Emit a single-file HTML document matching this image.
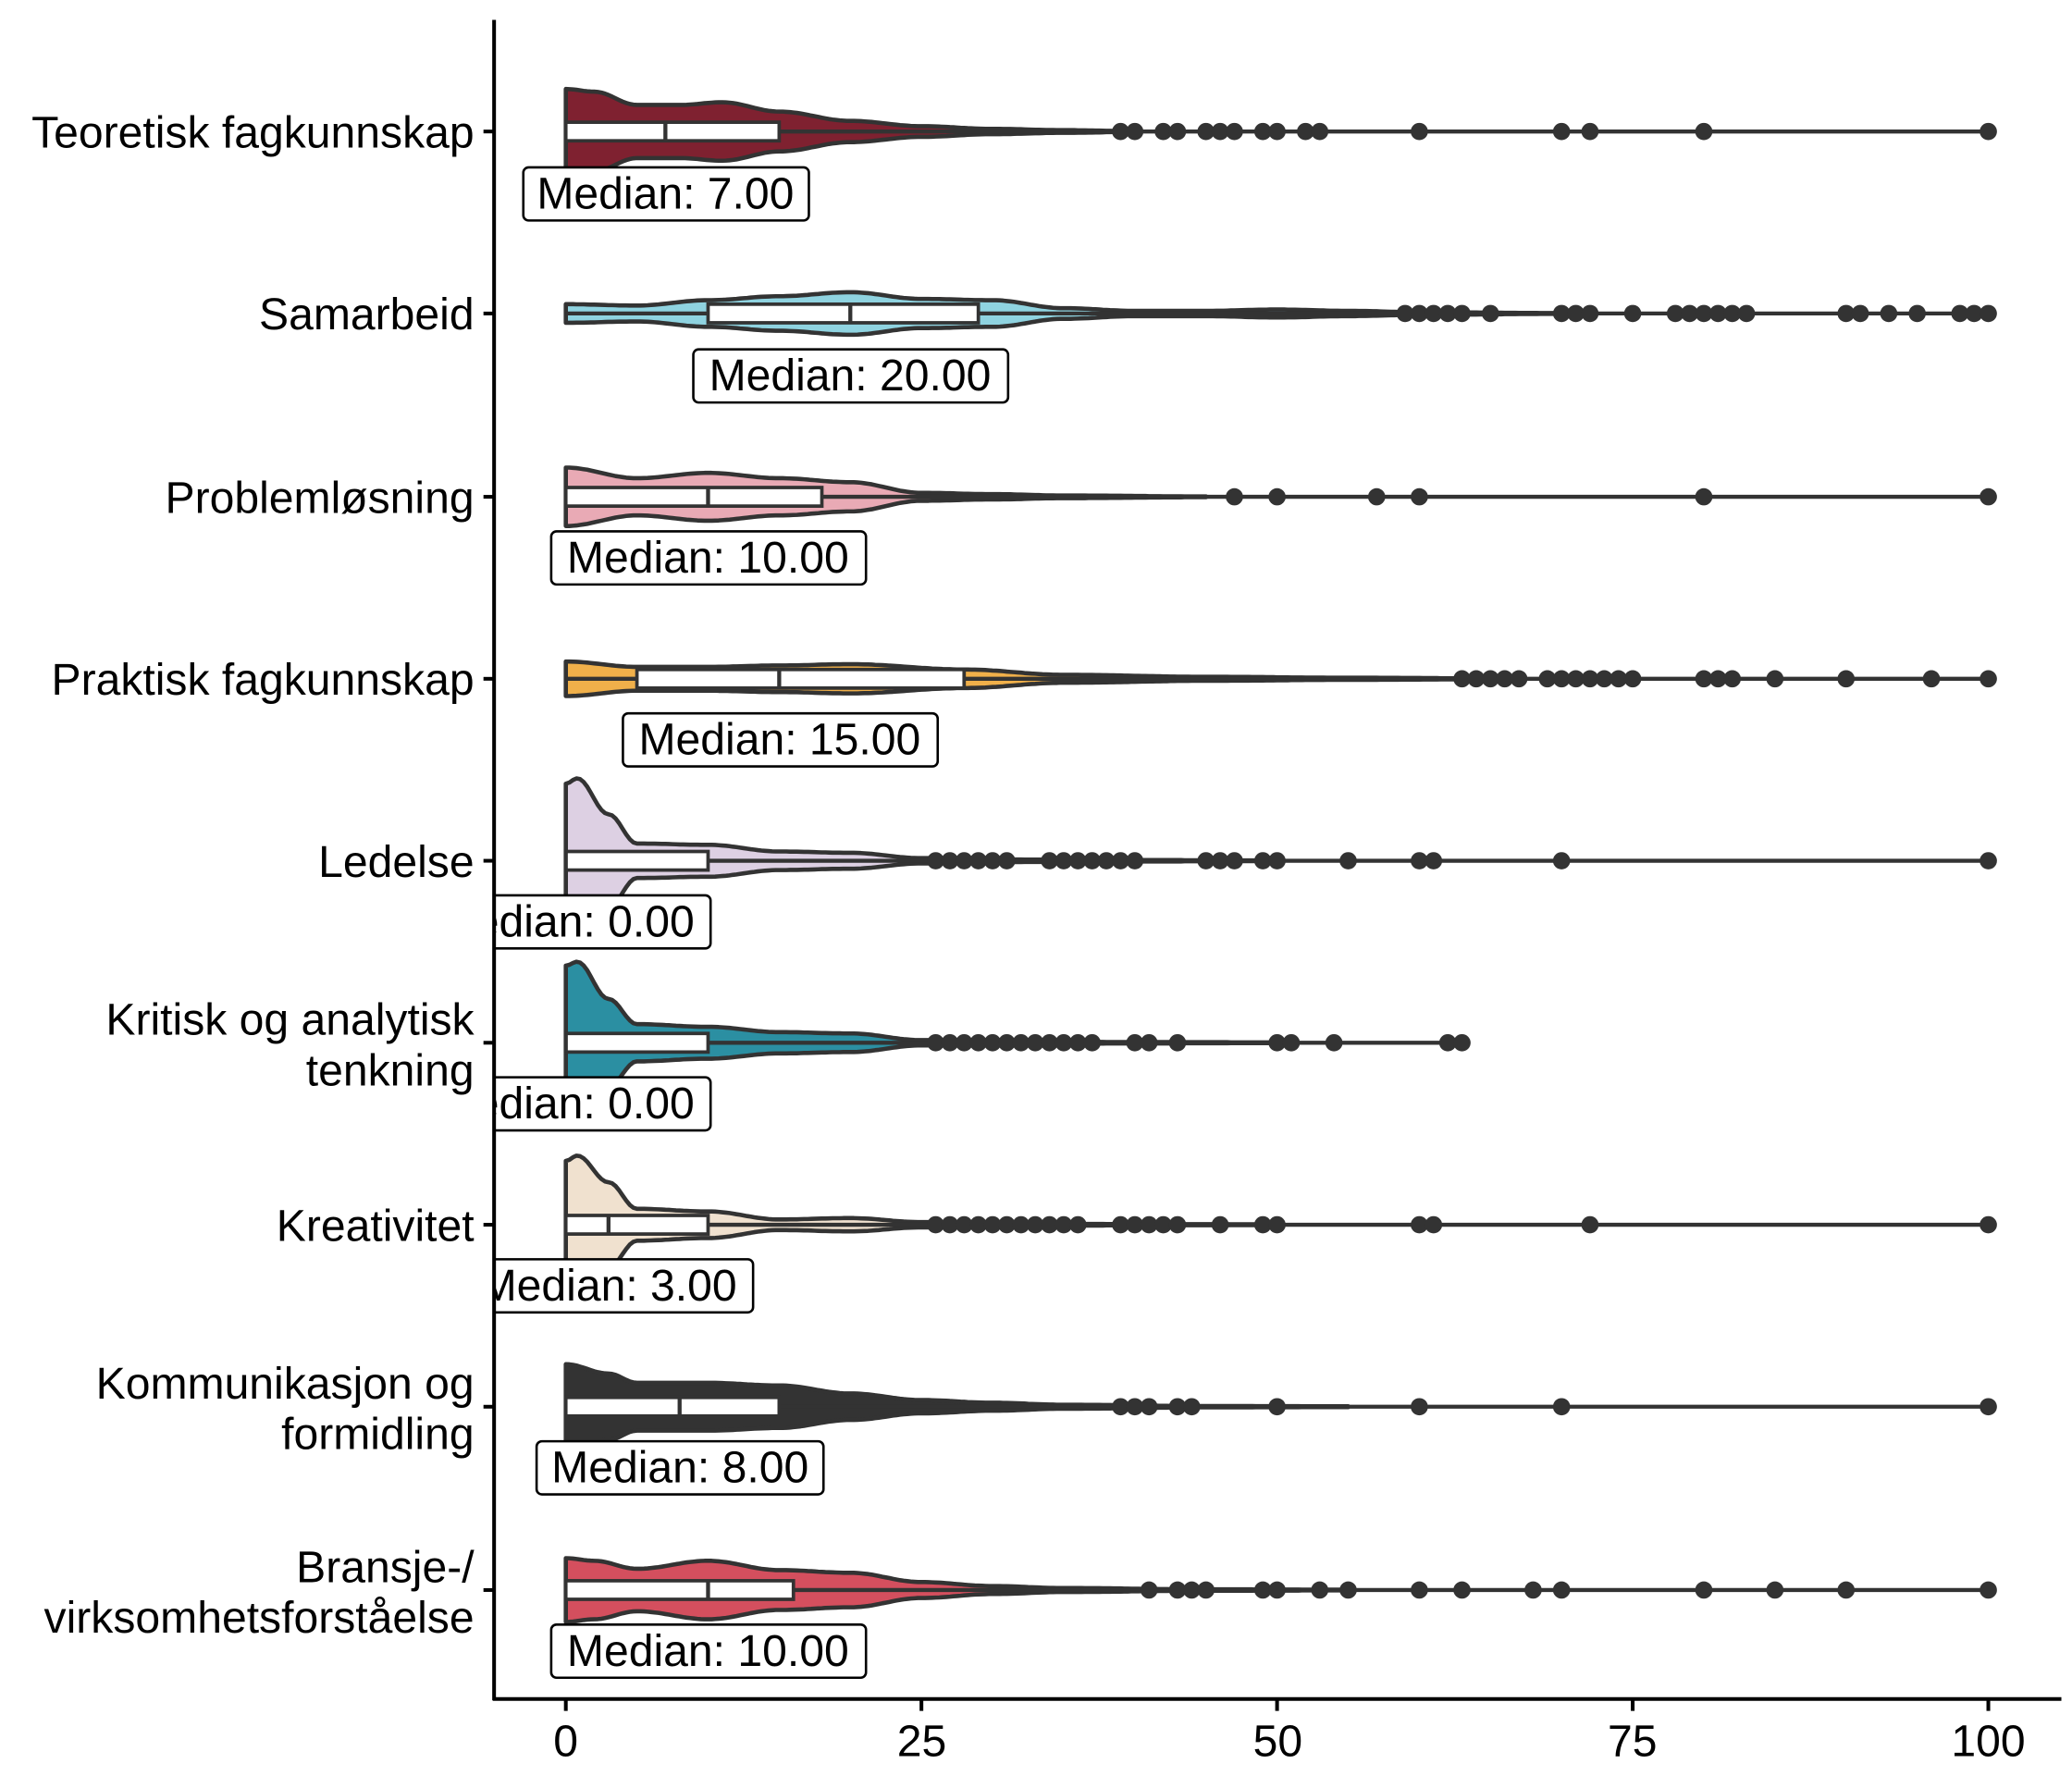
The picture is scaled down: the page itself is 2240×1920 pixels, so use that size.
<!DOCTYPE html>
<html><head><meta charset="utf-8"><style>
html,body{margin:0;padding:0;background:#fff}
svg{display:block}
text{font-family:"Liberation Sans",Arial,sans-serif;fill:#000}
</style></head><body>
<svg id="s" width="2240" height="1920" viewBox="0 0 1560 1337" preserveAspectRatio="none" xmlns="http://www.w3.org/2000/svg">
<defs><clipPath id="cp"><rect x="373" y="0" width="1200" height="1278"/></clipPath></defs>
<g id="plot" clip-path="url(#cp)"></g>
<g id="labels" clip-path="url(#cp)" font-size="33.5">
<g><rect x="394" y="126" width="215" height="40" rx="4" fill="#fff" stroke="#000" stroke-width="1.8"/><text x="501" y="157" text-anchor="middle">Median: 7.00</text></g>
<g><rect x="522" y="263" width="237" height="40" rx="4" fill="#fff" stroke="#000" stroke-width="1.8"/><text x="640" y="294" text-anchor="middle">Median: 20.00</text></g>
<g><rect x="415" y="400" width="237" height="40" rx="4" fill="#fff" stroke="#000" stroke-width="1.8"/><text x="533" y="431" text-anchor="middle">Median: 10.00</text></g>
<g><rect x="469" y="537" width="237" height="40" rx="4" fill="#fff" stroke="#000" stroke-width="1.8"/><text x="587" y="568" text-anchor="middle">Median: 15.00</text></g>
<g><rect x="319" y="674" width="216" height="40" rx="4" fill="#fff" stroke="#000" stroke-width="1.8"/><text x="426" y="705" text-anchor="middle">Median: 0.00</text></g>
<g><rect x="319" y="811" width="216" height="40" rx="4" fill="#fff" stroke="#000" stroke-width="1.8"/><text x="426" y="842" text-anchor="middle">Median: 0.00</text></g>
<g><rect x="351" y="948" width="216" height="40" rx="4" fill="#fff" stroke="#000" stroke-width="1.8"/><text x="458" y="979" text-anchor="middle">Median: 3.00</text></g>
<g><rect x="404" y="1085" width="216" height="40" rx="4" fill="#fff" stroke="#000" stroke-width="1.8"/><text x="512" y="1116" text-anchor="middle">Median: 8.00</text></g>
<g><rect x="415" y="1223" width="237" height="40" rx="4" fill="#fff" stroke="#000" stroke-width="1.8"/><text x="533" y="1254" text-anchor="middle">Median: 10.00</text></g>
</g>
<g stroke="#000" stroke-width="2.8">
<line x1="372" y1="15" x2="372" y2="1280"/>
<line x1="371" y1="1279" x2="1552" y2="1279"/>
</g>
<g id="ticks" stroke="#000" stroke-width="2.8"></g>
<g font-size="33.5" text-anchor="end">
<text x="357" y="111">Teoretisk fagkunnskap</text>
<text x="357" y="248">Samarbeid</text>
<text x="357" y="386">Problemløsning</text>
<text x="357" y="523">Praktisk fagkunnskap</text>
<text x="357" y="660">Ledelse</text>
<text x="357" y="779">Kritisk og analytisk</text>
<text x="357" y="817">tenkning</text>
<text x="357" y="934">Kreativitet</text>
<text x="357" y="1053">Kommunikasjon og</text>
<text x="357" y="1091">formidling</text>
<text x="357" y="1191">Bransje-/</text>
<text x="357" y="1229">virksomhetsforståelse</text>
</g>
<g font-size="33.5" text-anchor="middle">
<text x="426" y="1322">0</text>
<text x="694" y="1322">25</text>
<text x="962" y="1322">50</text>
<text x="1229" y="1322">75</text>
<text x="1497" y="1322">100</text>
</g>
</svg>
<script>
(function(){
var NS="http://www.w3.org/2000/svg";
function X(v){return 426+10.71*v;}
var rows=[
{y:99,c:"#7f2130",p:[[0,32],[2,30],[5,20],[8,20],[11,22],[15,15],[20,8],[25,4],[30,2],[35,1],[40,0.3]],b:[0,7,15],mx:100,
 d:[39,40,42,43,45,46,47,49,50,52,53,60,70,72,80,100]},
{y:236,c:"#8fd3e0",p:[[0,7],[5,6],[10,10],[15,13],[20,16],[25,11],[30,10],[35,4],[40,2],[45,2],[50,3],[55,2],[60,1],[70,0.3]],b:[10,20,29],mx:100,
 d:[59,60,61,62,63,65,70,71,72,75,78,79,80,81,82,83,90,91,93,95,98,99,100]},
{y:374,c:"#e9aab5",p:[[0,22],[5,14],[10,18],[15,14],[20,11],[25,3],[30,2],[35,1],[45,0.3]],b:[0,10,18],mx:100,
 d:[47,50,57,60,80,100]},
{y:511,c:"#f0b04a",p:[[0,13],[5,9],[10,9],[15,10],[20,11],[28,7],[35,3],[45,1.5],[55,0.8],[65,0.3]],b:[5,15,28],mx:100,
 d:[63,64,65,66,67,69,70,71,72,73,74,75,80,81,82,85,90,96,100]},
{y:648,c:"#ddd0e3",p:[[0,58],[0.8,62],[3,35],[5,13],[10,12],[15,7],[20,6],[25,2],[30,1],[40,0.5],[50,0.3]],b:[0,0,10],mx:100,
 d:[26,27,28,29,30,31,34,35,36,37,38,39,40,45,46,47,49,50,55,60,61,70,100]},
{y:785,c:"#2b8fa2",p:[[0,58],[0.8,61],[3,33],[5,14],[10,12],[15,8],[20,7],[25,2],[30,1],[40,0.5],[50,0.3]],b:[0,0,10],mx:63,
 d:[26,27,28,29,30,31,32,33,34,35,36,37,40,41,43,50,51,54,62,63]},
{y:922,c:"#f0e1cf",p:[[0,48],[0.8,52],[3,32],[5,12],[10,10],[15,4],[20,5],[25,2],[30,1],[40,0.5],[50,0.3]],b:[0,3,10],mx:100,
 d:[26,27,28,29,30,31,32,33,34,35,36,39,40,41,42,43,46,49,50,60,61,72,100]},
{y:1059,c:"#333333",p:[[0,32],[3,25],[5,18],[10,18],[15,16],[20,10],[25,5],[30,3],[35,1.5],[45,0.5],[55,0.3]],b:[0,8,15],mx:100,
 d:[39,40,41,43,44,50,60,70,100]},
{y:1197,c:"#d44f5e",p:[[0,24],[2,22],[5,16],[10,22],[15,15],[20,13],[25,6],[30,3],[35,1.5],[45,0.5],[55,0.3]],b:[0,10,16],mx:100,
 d:[41,43,44,45,49,50,53,55,60,63,68,70,80,85,90,100]}
];
var g=document.getElementById("plot");
function el(n,a){var e=document.createElementNS(NS,n);for(var k in a)e.setAttribute(k,a[k]);g.appendChild(e);return e;}
function interp(p,v){for(var i=0;i<p.length-1;i++){if(v>=p[i][0]&&v<=p[i+1][0]){var t=(v-p[i][0])/(p[i+1][0]-p[i][0]);t=(1-Math.cos(Math.PI*t))/2;return p[i][1]+(p[i+1][1]-p[i][1])*t;}}return 0;}
rows.forEach(function(r){
 var end=r.p[r.p.length-1][0],top=[],bot=[];
 for(var v=0;v<=end;v+=0.25){var h=interp(r.p,v);top.push(X(v).toFixed(1)+","+(r.y-h).toFixed(1));bot.unshift(X(v).toFixed(1)+","+(r.y+h).toFixed(1));}
 el("polygon",{points:top.concat(bot).join(" "),fill:r.c,stroke:"#333",'stroke-width':3.2,'stroke-linejoin':"round"});
 el("line",{x1:X(0),y1:r.y,x2:X(r.mx),y2:r.y,stroke:"#333",'stroke-width':3});
 el("rect",{x:X(r.b[0]),y:r.y-7,width:Math.max(X(r.b[2])-X(r.b[0]),0.1),height:14,fill:"#fff",stroke:"#333",'stroke-width':2.6});
 el("line",{x1:X(r.b[1]),y1:r.y-7,x2:X(r.b[1]),y2:r.y+7,stroke:"#333",'stroke-width':3});
 r.d.forEach(function(v){el("circle",{cx:X(v),cy:r.y,r:6.5,fill:"#333"});});
});
var t=document.getElementById("ticks");
rows.forEach(function(r){var l=document.createElementNS(NS,"line");l.setAttribute("x1",364);l.setAttribute("x2",372);l.setAttribute("y1",r.y);l.setAttribute("y2",r.y);t.appendChild(l);});
[0,25,50,75,100].forEach(function(v){var l=document.createElementNS(NS,"line");l.setAttribute("x1",X(v));l.setAttribute("x2",X(v));l.setAttribute("y1",1279);l.setAttribute("y2",1288);t.appendChild(l);});
})();
</script>
</body></html>
